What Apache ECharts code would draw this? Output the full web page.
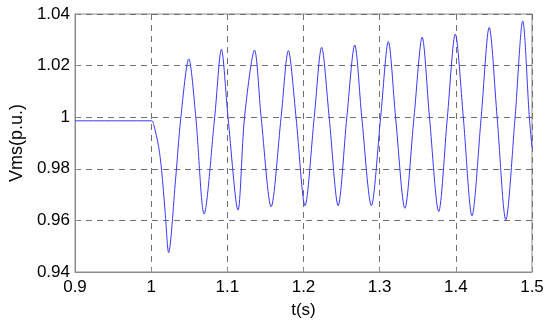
<!DOCTYPE html>
<html>
<head>
<meta charset="utf-8">
<script src="https://cdn.jsdelivr.net/npm/echarts@6/dist/echarts.min.js"></script>
<style>html,body{margin:0;padding:0;background:#fff;}#c{width:550px;height:327px;}</style>
</head>
<body>
<div id="c"></div>
<script>
var xTickLabels = ['0.9', '1', '1.1', '1.2', '1.3', '1.4', '1.5'];
var yTickLabels = ['0.94', '0.96', '0.98', '1', '1.02', '1.04'];
var timeValues = [0.900, 1.0007, 1.0033, 1.0098, 1.0137, 1.0185, 1.0229, 1.0320, 1.0390, 1.0494, 1.0586, 1.0695, 1.0834, 1.0922, 1.1009, 1.1140, 1.1226, 1.1357, 1.1444, 1.1575, 1.1706, 1.1801, 1.1902, 1.2020, 1.2141, 1.2238, 1.2337, 1.2455, 1.2569, 1.2673, 1.2765, 1.2891, 1.3013, 1.3114, 1.3209, 1.3331, 1.3451, 1.3558, 1.3654, 1.3775, 1.3889, 1.3993, 1.4098, 1.4212, 1.4333, 1.4438, 1.4542, 1.4656, 1.4778, 1.4878, 1.4965, 1.5000];
var vrmsValues = [0.9986, 0.9986, 0.9972, 0.9886, 0.9795, 0.9627, 0.9475, 0.9757, 1.0000, 1.0226, 1.0000, 0.9625, 1.0000, 1.0263, 1.0000, 0.9640, 1.0000, 1.0260, 1.0000, 0.9653, 1.0000, 1.0258, 1.0000, 0.9657, 1.0000, 1.0271, 1.0000, 0.9657, 1.0000, 1.0280, 1.0000, 0.9657, 1.0000, 1.0293, 1.0000, 0.9647, 1.0000, 1.0310, 1.0000, 0.9634, 1.0000, 1.0322, 1.0000, 0.9618, 1.0000, 1.0348, 1.0000, 0.9602, 1.0000, 1.0373, 1.0000, 0.9883];

var data = timeValues.map(function (t, i) { return [t, vrmsValues[i]]; });
var chart = echarts.init(document.getElementById('c'), null, {renderer: 'canvas'});
var font = 'Liberation Sans, Arial, sans-serif';
function fmt(list, min, step) {
  return function (v) { var i = Math.round((v - min) / step); return list[i] !== undefined ? list[i] : ''; };
}
chart.setOption({
  animation: false,
  backgroundColor: '#fff',
  grid: {left: 73, right: 18, top: 14, bottom: 55, show: true, borderColor: '#8c8c8c', borderWidth: 1},
  xAxis: {
    type: 'value', min: 0.9, max: 1.5, interval: 0.1,
    name: 't(s)', nameLocation: 'middle', nameGap: 30,
    nameTextStyle: {fontFamily: font, fontSize: 17, color: '#000'},
    axisLine: {show: true, lineStyle: {color: '#8c8c8c'}},
    axisTick: {show: true, inside: true, length: 4, lineStyle: {color: '#8c8c8c'}},
    axisLabel: {fontFamily: font, fontSize: 17, color: '#000', margin: 7, formatter: fmt(xTickLabels, 0.9, 0.1)},
    splitLine: {show: true, lineStyle: {color: '#707070', type: [6, 5], width: 1}}
  },
  yAxis: {
    type: 'value', min: 0.94, max: 1.04, interval: 0.02,
    name: 'Vms(p.u.)', nameLocation: 'middle', nameGap: 48, nameRotate: 90,
    nameTextStyle: {fontFamily: font, fontSize: 18, color: '#000'},
    axisLine: {show: true, lineStyle: {color: '#8c8c8c'}},
    axisTick: {show: true, inside: true, length: 4, lineStyle: {color: '#8c8c8c'}},
    axisLabel: {fontFamily: font, fontSize: 17, color: '#000', margin: 5, formatter: fmt(yTickLabels, 0.94, 0.02)},
    splitLine: {show: true, lineStyle: {color: '#707070', type: [6, 5], width: 1}}
  },
  series: [{
    type: 'line', data: data, showSymbol: false, smooth: 0.3,
    lineStyle: {color: '#3838ff', width: 1}
  }]
});
</script>
</body>
</html>
